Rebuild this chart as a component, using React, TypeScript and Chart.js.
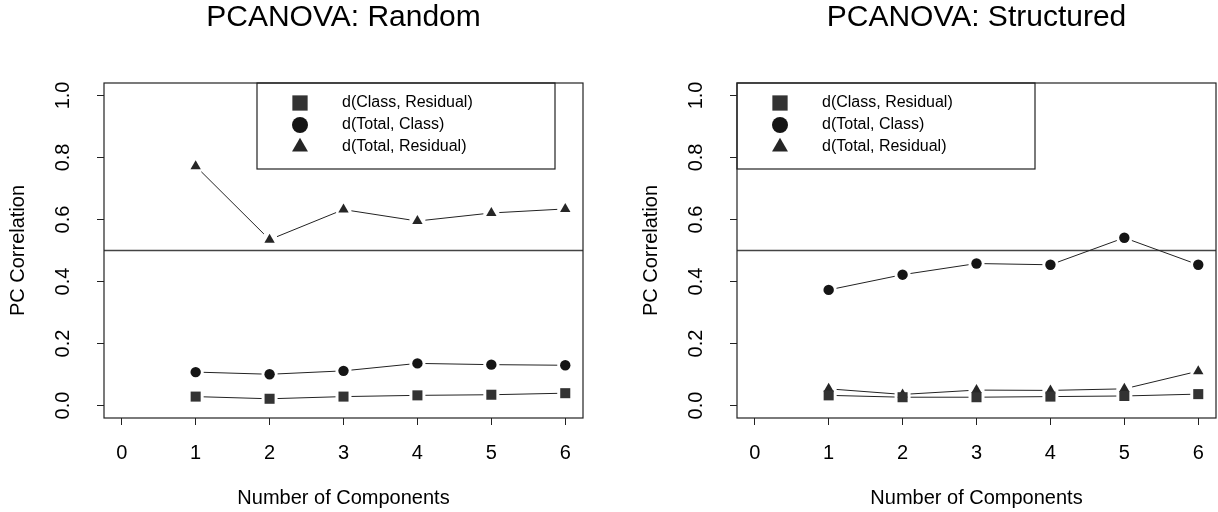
import React, { useEffect, useRef } from 'react';
import { Chart, registerables } from 'chart.js';
import { drawPoint } from 'chart.js/helpers';

Chart.register(...registerables);

// ---------- data ----------
const COMPONENTS = [1, 2, 3, 4, 5, 6];
const X_TICKS = [0, 1, 2, 3, 4, 5, 6];
const Y_TICKS = [0, 0.2, 0.4, 0.6, 0.8, 1.0];
const SERIES_LABELS = ['d(Class, Residual)', 'd(Total, Class)', 'd(Total, Residual)'];

const RANDOM_CLASS_RESIDUAL = [0.029, 0.022, 0.029, 0.033, 0.035, 0.040];
const RANDOM_TOTAL_CLASS = [0.108, 0.101, 0.112, 0.136, 0.132, 0.130];
const RANDOM_TOTAL_RESIDUAL = [0.772, 0.535, 0.632, 0.595, 0.621, 0.634];

const STRUCT_CLASS_RESIDUAL = [0.033, 0.027, 0.027, 0.029, 0.031, 0.037];
const STRUCT_TOTAL_CLASS = [0.373, 0.422, 0.458, 0.454, 0.541, 0.454];
const STRUCT_TOTAL_RESIDUAL = [0.054, 0.036, 0.050, 0.049, 0.054, 0.111];

const THRESHOLD = 0.5;
const X_MIN = -0.24;
const X_MAX = 6.24;
const Y_MIN = -0.04;
const Y_MAX = 1.04;

// ---------- styles ----------
const FONT = '"Liberation Sans", Arial, Helvetica, sans-serif';
const AXIS_COLOR = '#222';
const LINE_COLOR = '#222';
const HLINE_COLOR = '#444';
const POINT_STYLES = ['rect', 'circle', 'triangle'];
const POINT_COLORS = ['#333333', '#151515', '#262626'];
const POINT_RADII = [7.1, 5.2, 6.0];
const LEGEND_RADII = [10.8, 8.0, 9.2];
const GAP = 8;
const LEGEND_W = 298;
const LEGEND_H = 86;
const LEGEND_ROWS = [20, 42, 64];
const LEGEND_SYM_X = 43;
const LEGEND_TEXT_X = 85;

const rPlotPlugin = {
  id: 'rPlot',
  beforeDatasetsDraw(chart: any) {
    const ctx = chart.ctx;
    const area = chart.chartArea;
    const y = chart.scales.y.getPixelForValue(THRESHOLD);
    ctx.save();
    ctx.strokeStyle = HLINE_COLOR;
    ctx.lineWidth = 1.6;
    ctx.beginPath();
    ctx.moveTo(area.left, y);
    ctx.lineTo(area.right, y);
    ctx.stroke();
    // type "b" lines with gaps around points
    ctx.strokeStyle = LINE_COLOR;
    ctx.lineWidth = 1;
    chart.data.datasets.forEach((_: any, di: number) => {
      const pts = chart.getDatasetMeta(di).data;
      for (let i = 0; i < pts.length - 1; i++) {
        const a = pts[i];
        const b = pts[i + 1];
        const dx = b.x - a.x;
        const dy = b.y - a.y;
        const len = Math.hypot(dx, dy);
        if (len <= 2 * GAP) continue;
        const ux = dx / len;
        const uy = dy / len;
        ctx.beginPath();
        ctx.moveTo(a.x + ux * GAP, a.y + uy * GAP);
        ctx.lineTo(b.x - ux * GAP, b.y - uy * GAP);
        ctx.stroke();
      }
    });
    ctx.restore();
  },
  afterDraw(chart: any) {
    const ctx = chart.ctx;
    const area = chart.chartArea;
    const opts = chart.options.plugins.rPlot || {};
    ctx.save();
    ctx.strokeStyle = AXIS_COLOR;
    ctx.lineWidth = 1.2;
    ctx.strokeRect(area.left, area.top, area.right - area.left, area.bottom - area.top);
    // legend
    const lx = area.left + (opts.legendOffset || 0);
    const ly = area.top;
    ctx.lineWidth = 1.2;
    ctx.strokeRect(lx, ly, LEGEND_W, LEGEND_H);
    chart.data.datasets.forEach((ds: any, i: number) => {
      const cy = ly + LEGEND_ROWS[i];
      ctx.fillStyle = POINT_COLORS[i];
      drawPoint(ctx, { pointStyle: POINT_STYLES[i], radius: LEGEND_RADII[i], rotation: 0, borderWidth: 0 } as any, lx + LEGEND_SYM_X, cy);
      ctx.fillStyle = '#000';
      ctx.font = '16px ' + FONT;
      ctx.textAlign = 'left';
      ctx.textBaseline = 'middle';
      ctx.fillText(ds.label, lx + LEGEND_TEXT_X, cy);
    });
    ctx.restore();
  },
};

function Panel({ title, values, legendOffset, left }: { title: string; values: number[][]; legendOffset: number; left: number }) {
  const ref = useRef<HTMLCanvasElement>(null);
  useEffect(() => {
    if (!ref.current) return;
    const datasets = values.map((vals, i) => ({
      label: SERIES_LABELS[i],
      data: COMPONENTS.map((c, j) => ({ x: c, y: vals[j] })),
      pointStyle: POINT_STYLES[i],
      pointRadius: POINT_RADII[i],
      pointHoverRadius: POINT_RADII[i],
      backgroundColor: POINT_COLORS[i],
      pointBackgroundColor: POINT_COLORS[i],
      pointBorderWidth: 0,
      borderWidth: 0,
      showLine: false,
    }));
    const tickFont = { size: 20, family: FONT };
    const chart = new Chart(ref.current, {
      type: 'scatter',
      data: { datasets },
      plugins: [rPlotPlugin],
      options: {
        animation: false,
        responsive: false,
        devicePixelRatio: 1,
        events: [],
        layout: { padding: { left: 0, right: 17, top: 0, bottom: 0 } },
        plugins: {
          legend: { display: false },
          tooltip: { enabled: false },
          title: {
            display: true,
            text: title,
            fullSize: false,
            color: '#000',
            font: { size: 30, family: FONT, weight: 'normal' },
            padding: { top: 0, bottom: 47 },
          },
          rPlot: { legendOffset },
        } as any,
        scales: {
          x: {
            type: 'linear',
            min: X_MIN,
            max: X_MAX,
            afterBuildTicks: (s: any) => {
              s.ticks = X_TICKS.map((v) => ({ value: v }));
            },
            afterFit: (s: any) => {
              s.height = 94;
            },
            grid: { display: true, drawOnChartArea: false, drawTicks: true, tickLength: 7, color: AXIS_COLOR, lineWidth: 1 },
            border: { display: false },
            ticks: { padding: 16, autoSkip: false, maxRotation: 0, color: '#000', font: tickFont, callback: (v: any) => String(v) },
            title: { display: true, text: 'Number of Components', color: '#000', font: tickFont, padding: { top: 0, bottom: 2 } },
          },
          y: {
            type: 'linear',
            min: Y_MIN,
            max: Y_MAX,
            afterBuildTicks: (s: any) => {
              s.ticks = Y_TICKS.map((v) => ({ value: v }));
            },
            afterFit: (s: any) => {
              s.width = 104;
            },
            grid: { display: true, drawOnChartArea: false, drawTicks: true, tickLength: 7, color: AXIS_COLOR, lineWidth: 1 },
            border: { display: false },
            ticks: {
              padding: 20,
              autoSkip: false,
              minRotation: 90,
              maxRotation: 90,
              crossAlign: 'center',
              color: '#000',
              font: tickFont,
              callback: (v: any) => Number(v).toFixed(1),
            },
            title: { display: true, text: 'PC Correlation', color: '#000', font: tickFont, padding: { top: 6, bottom: 0 } },
          },
        },
      } as any,
    });
    return () => chart.destroy();
  }, [title, values, legendOffset]);
  return (
    <div style={{ position: 'absolute', left, top: 0, width: 600, height: 512 }}>
      <canvas ref={ref} width={600} height={512} style={{ width: 600, height: 512, display: 'block' }} />
    </div>
  );
}

const RANDOM_VALUES = [RANDOM_CLASS_RESIDUAL, RANDOM_TOTAL_CLASS, RANDOM_TOTAL_RESIDUAL];
const STRUCT_VALUES = [STRUCT_CLASS_RESIDUAL, STRUCT_TOTAL_CLASS, STRUCT_TOTAL_RESIDUAL];

export default function App() {
  return (
    <div style={{ position: 'absolute', left: 0, top: 0, width: 1218, height: 512, overflow: 'hidden', background: '#fff' }}>
      <Panel title="PCANOVA: Random" values={RANDOM_VALUES} legendOffset={153} left={0} />
      <Panel title="PCANOVA: Structured" values={STRUCT_VALUES} legendOffset={0} left={633} />
    </div>
  );
}
